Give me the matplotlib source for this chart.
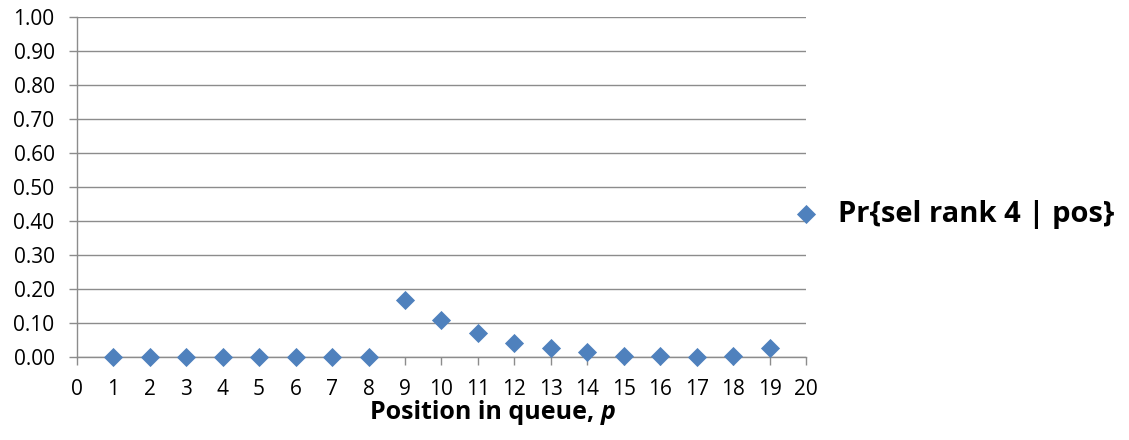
import numpy as np
import matplotlib.pyplot as plt

plt.rcParams['font.family'] = ['Open Sans', 'DejaVu Sans']

positions = list(range(1, 21))
prob = [0, 0, 0, 0, 0, 0, 0, 0, 0.168, 0.107, 0.07, 0.042, 0.026, 0.015,
        0.003, 0.003, 0.0, 0.003, 0.026, 0.42]
series_label = 'Pr{sel rank 4 | pos}'

fig = plt.figure(figsize=(11.29, 4.40), dpi=100)
ax = fig.add_axes([0.068, 0.189, 0.646, 0.772])

ax.scatter(positions, prob, marker='D', s=95, color='#4F81BD', zorder=3,
           clip_on=False, linewidths=0)

ax.set_xlim(0, 20)
ax.set_ylim(0, 1.0)
ax.set_xticks(range(0, 21))
ax.set_yticks(np.arange(0, 1.01, 0.1))
ax.set_yticklabels(['%.2f' % v for v in np.arange(0, 1.01, 0.1)])
ax.yaxis.grid(True, color='#8c8c8c', linewidth=1.0)
ax.set_axisbelow(True)

for s in ['top', 'right']:
    ax.spines[s].set_visible(False)
for s in ['left', 'bottom']:
    ax.spines[s].set_color('#8c8c8c')
    ax.spines[s].set_linewidth(1.0)
ax.tick_params(axis='both', colors='#8c8c8c', labelcolor='black',
               labelsize=15, length=6, width=1.0)
ax.tick_params(axis='y', pad=10)
ax.tick_params(axis='x', pad=10)

# x label: bold text followed by a bold italic p
fig.canvas.draw()
r = fig.canvas.get_renderer()
lab = fig.text(0.0, 0.063, 'Position in queue, ', fontsize=18,
               fontweight='bold', ha='left', va='center')
p_lab = fig.text(0.0, 0.063, 'p', fontsize=18, fontweight='bold',
                 style='italic', ha='left', va='center')
w1 = lab.get_window_extent(r).width
w2 = p_lab.get_window_extent(r).width
x0 = (493 - (w1 + w2) / 2) / 1129
lab.set_x(x0)
p_lab.set_x(x0 + w1 / 1129)

fig.text(0.742, 0.513, series_label, fontsize=21, fontweight='bold',
         ha='left', va='center')

fig.savefig('out.png', dpi=100)
